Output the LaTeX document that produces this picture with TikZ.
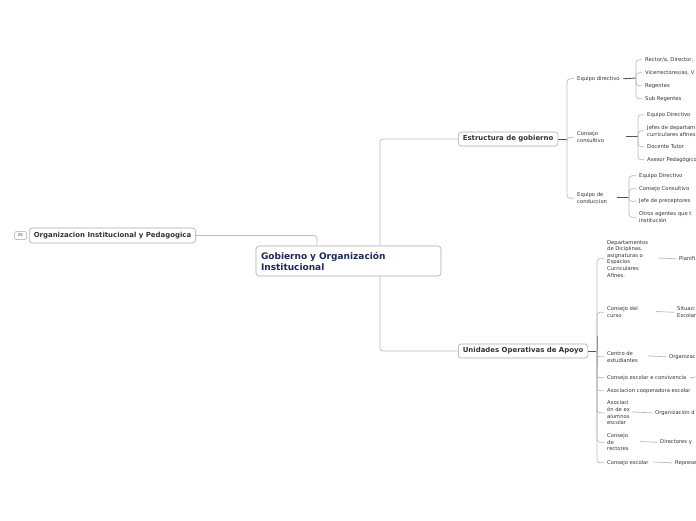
\documentclass[tikz,border=0pt]{standalone}
\usepackage{fontspec}
\setmainfont{DejaVu Sans}
\definecolor{lite}{HTML}{BBBBBB}
\definecolor{dark}{HTML}{555555}
\definecolor{txt}{HTML}{333333}
\definecolor{boxc}{HTML}{AAAAAA}
\definecolor{navy}{HTML}{1B2A5C}
\tikzset{
  leaf/.style={font=\fontsize{5.25}{6.6}\selectfont, text=txt, inner sep=0pt, anchor=west, align=left, yshift=-0.8pt},
  topic/.style={draw=boxc, line width=0.6pt, rounded corners=3pt, fill=white, text=txt,
     font=\fontsize{6.95}{8}\selectfont\bfseries, inner xsep=4.5pt, inner ysep=0pt, minimum height=14pt, anchor=west},
  litel/.style={draw=lite, line width=0.7pt, rounded corners=3pt},
  darkl/.style={draw=dark, line width=0.9pt},
}
\begin{document}
\begin{tikzpicture}[x=1pt,y=-1pt]
\useasboundingbox (0,0) rectangle (696,520);
\clip (0,0) rectangle (696,520);
\fill[white] (0,0) rectangle (696,520);

% turning coordinates
\coordinate (t1) at (317,0);
\coordinate (t2) at (380,0);

% main nodes
\node[draw=boxc, line width=0.6pt, rounded corners=3pt, fill=white, minimum width=185pt, minimum height=30pt,
      text width=175pt, align=left, inner xsep=5pt, text=navy,
      font=\fontsize{9}{11}\selectfont\bfseries] (central) at (348.5,261) {Gobierno y Organización\\Institucional};
\node[topic, minimum height=15pt] (left) at (29,235.5) {Organizacion Institucional y Pedagogica};
\node[draw=boxc, line width=0.5pt, rounded corners=2pt, fill=white, text=txt, inner sep=0pt,
      minimum width=12pt, minimum height=8pt, font=\fontsize{4}{5}\selectfont] (badge) at (20.5,235.5) {25};
\node[topic] (estr) at (458,139) {Estructura de gobierno};
\node[topic] (unid) at (458,351) {Unidades Operativas de Apoyo};

% main connectors
\draw[litel] (left.east) -| (central.north -| t1);
\draw[litel] (central.north -| t2) |- (estr.west);
\draw[litel] (central.south -| t2) |- (unid.west);

% ---- Estructura de gobierno ----
\coordinate (b1) at (567,139);
\node[leaf] (eqd) at (577,78) {Equipo directivo};
\node[leaf] (cc) at (577,136.5) {Consejo\\consultivo};
\node[leaf] (eqc) at (577,197.5) {Equipo de\\conduccion};
\draw[darkl] (estr.east) -- (b1);
\foreach \n in {eqd,cc,eqc} \draw[litel] (b1) |- ([xshift=-3pt]\n.west);

% Equipo directivo
\coordinate (b2) at (636,78);
\node[leaf] (ed1) at (645,59) {Rector/a, Director,};
\node[leaf] (ed2) at (645,72) {Vicerrectores/as, V};
\node[leaf] (ed3) at (645,85) {Regentes};
\node[leaf] (ed4) at (645,98) {Sub Regentes};
\draw[darkl] ([xshift=3pt]eqd.east) -- (b2);
\foreach \n in {ed1,ed2,ed3,ed4} \draw[litel] (b2) |- ([xshift=-3pt]\n.west);

% Consejo consultivo
\coordinate (b3) at (638,136.5);
\node[leaf] (cc1) at (647,114) {Equipo Directivo};
\node[leaf] (cc2) at (647,130) {Jefes de departam\\curriculares afines};
\node[leaf] (cc3) at (647,146) {Docente Tutor};
\node[leaf] (cc4) at (647,159) {Asesor Pedagógico};
\draw[darkl] (626,136.5) -- (b3);
\foreach \n in {cc1,cc2,cc3,cc4} \draw[litel] (b3) |- ([xshift=-3pt]\n.west);

% Equipo de conduccion
\coordinate (b4) at (629,197.5);
\node[leaf] (ec1) at (639,175) {Equipo Directivo};
\node[leaf] (ec2) at (639,188) {Consejo Consultivo};
\node[leaf] (ec3) at (639,200.5) {Jefe de preceptores};
\node[leaf] (ec4) at (639,216.5) {Otros agentes  que t\\institución};
\draw[darkl] (617,197.5) -- (b4);
\foreach \n in {ec1,ec2,ec3,ec4} \draw[litel] (b4) |- ([xshift=-3pt]\n.west);

% ---- Unidades Operativas de Apoyo ----
\coordinate (b5) at (597,351);
\node[leaf] (u1) at (607,258) {Departamentos\\de Diciplinas,\\asignaturas o\\Espacios\\Curriculares\\Afines.};
\node[leaf] (u2) at (607,311.5) {Consejo del\\curso};
\node[leaf] (u3) at (607,356) {Centro de\\estudiantes};
\node[leaf] (u4) at (607,377) {Consejo escolar e convivencia};
\node[leaf] (u5) at (607,390) {Asociacion cooperadora escolar};
\node[leaf] (u6) at (607,412) {Asociaci\\ón de ex\\alumnos\\escolar};
\node[leaf] (u7) at (607,441.5) {Consejo\\de\\rectores};
\node[leaf] (u8) at (607,462) {Consejo escolar};
\draw[darkl] (unid.east) -- (b5);
\draw[darkl] (b5) ++(0,-15) -- ++(0,30);
\foreach \n in {u1,u2,u3,u4,u5,u6,u7,u8} \draw[litel] (b5) |- ([xshift=-3pt]\n.west);

% grandchildren
\coordinate (g4) at (696,377);
\node[leaf] (g1) at (679,258) {Planifi};
\node[leaf] (g2) at (677,311.5) {Situaci\\Escolar};
\node[leaf] (g3) at (669,356) {Organizac};
\node[leaf] (g6) at (655,412) {Organización d};
\node[leaf] (g7) at (660,441.5) {Directores y};
\node[leaf] (g8) at (675,462) {Represe};
\draw[litel] (658,258) -- ([xshift=-3pt]g1.west);
\draw[litel] (656,311.5) -- ([xshift=-3pt]g2.west);
\draw[litel] (648,356) -- ([xshift=-3pt]g3.west);
\draw[litel] ([xshift=3pt]u4.east) -- (g4);
\draw[litel] (632,412) -- ([xshift=-3pt]g6.west);
\draw[litel] (640,441.5) -- ([xshift=-3pt]g7.west);
\draw[litel] (653,462) -- ([xshift=-3pt]g8.west);
\end{tikzpicture}
\end{document}
